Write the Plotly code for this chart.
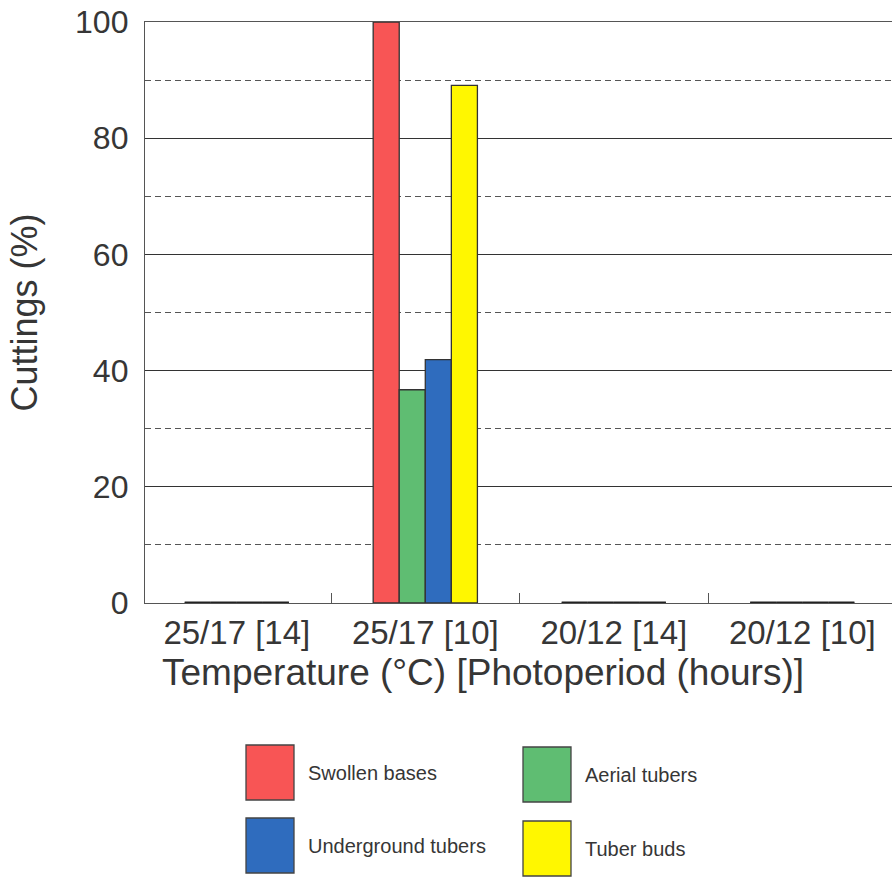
import plotly.graph_objects as go

# Treatment groups: day/night temperature (°C) [photoperiod (hours)]
categories = ["25/17 [14]", "25/17 [10]", "20/12 [14]", "20/12 [10]"]

# Percentage of cuttings showing each response
swollen_bases = [0, 100, 0, 0]
aerial_tubers = [0, 36.7, 0, 0]
underground_tubers = [0, 41.9, 0, 0]
tuber_buds = [0, 89.1, 0, 0]

series_names = ["Swollen bases", "Aerial tubers", "Underground tubers", "Tuber buds"]
series_values = [swollen_bases, aerial_tubers, underground_tubers, tuber_buds]
series_colors = ["#F85555", "#5FBD72", "#2F6CBE", "#FFF700"]

W, H = 892, 877
M_L, M_R, M_T, M_B = 145, 0, 22, 274
plot_w = W - M_L - M_R
plot_h = H - M_T - M_B

X_RANGE = [-0.487, 3.476]
BARGAP = 0.447
n_series = len(series_names)
group_w = 1 - BARGAP
bar_w = group_w / n_series

TXT = "#363636"
FONT = "Arial, Liberation Sans, sans-serif"
EDGE = "#333333"

fig = go.Figure()
x_idx = list(range(len(categories)))

for name, vals, col in zip(series_names, series_values, series_colors):
    fig.add_trace(go.Bar(
        x=x_idx, y=vals, name=name,
        marker=dict(color=col, line=dict(color=EDGE, width=1.3)),
        showlegend=False,
    ))

# Zero-valued bars collapse to their outline on the baseline
for k, vals in enumerate(series_values):
    xs, ys = [], []
    for i, v in enumerate(vals):
        if v == 0:
            x0 = i - group_w / 2 + k * bar_w
            xs += [x0, x0 + bar_w, None]
            ys += [v, v, None]
    fig.add_trace(go.Scatter(
        x=xs, y=ys, mode="lines", line=dict(color="#222222", width=3),
        showlegend=False, hoverinfo="skip", cliponaxis=False,
    ))


def px_to_paper_x(px):
    return (px - M_L) / plot_w


def px_to_paper_y(py):
    return (H - M_B - py) / plot_h


# Legend drawn as large swatches below the chart
legend_items = [
    (series_names[0], series_colors[0], 246, 745, 306),
    (series_names[1], series_colors[1], 523, 747, 583),
    (series_names[2], series_colors[2], 246, 818, 306),
    (series_names[3], series_colors[3], 523, 821, 583),
]
SW_W, SW_H = 48, 55
for name, col, sx, sy, tx in legend_items:
    fig.add_shape(
        type="rect", xref="paper", yref="paper",
        x0=px_to_paper_x(sx), x1=px_to_paper_x(sx + SW_W),
        y0=px_to_paper_y(sy + SW_H), y1=px_to_paper_y(sy),
        fillcolor=col, line=dict(color="#444444", width=1.3),
    )
    fig.add_annotation(
        xref="paper", yref="paper",
        x=px_to_paper_x(tx), y=px_to_paper_y(sy + SW_H / 2),
        text=name, showarrow=False, xanchor="left", yanchor="middle",
        font=dict(family=FONT, size=20, color=TXT),
    )

# X-axis title, centred under the visible tick labels
fig.add_annotation(
    xref="paper", yref="paper",
    x=px_to_paper_x(483), y=px_to_paper_y(672),
    text="Temperature (°C) [Photoperiod (hours)]", showarrow=False,
    xanchor="center", yanchor="middle",
    font=dict(family=FONT, size=37, color=TXT),
)

fig.update_layout(
    width=W, height=H,
    margin=dict(l=M_L, r=M_R, t=M_T, b=M_B, pad=0),
    paper_bgcolor="white", plot_bgcolor="white",
    barmode="group", bargap=BARGAP, bargroupgap=0,
    font=dict(family=FONT, color=TXT),
    xaxis=dict(
        range=X_RANGE,
        tickmode="array", tickvals=x_idx, ticktext=categories,
        ticks="", showgrid=False, zeroline=False,
        tickfont=dict(size=33, color=TXT),
        showline=True, linecolor="#555555", linewidth=1.3, mirror=True,
        minor=dict(tickmode="array", tickvals=[0.5, 1.5, 2.5],
                   ticks="inside", ticklen=10, tickcolor="#555555", tickwidth=1.2),
    ),
    yaxis=dict(
        range=[0, 100], tickmode="array", tickvals=[0, 20, 40, 60, 80, 100],
        ticks="", zeroline=False,
        showgrid=True, gridcolor="#333333", gridwidth=1.4,
        minor=dict(tickmode="array", tickvals=[10, 30, 50, 70, 90],
                   showgrid=True, gridcolor="#555555", gridwidth=1, griddash="6px,4px"),
        tickfont=dict(size=32, color=TXT),
        showline=True, linecolor="#555555", linewidth=1.3,
        ticklabelstandoff=9,
        title=dict(text="Cuttings (%)", font=dict(size=36, color=TXT), standoff=26),
    ),
)

fig.write_html("out.html")
